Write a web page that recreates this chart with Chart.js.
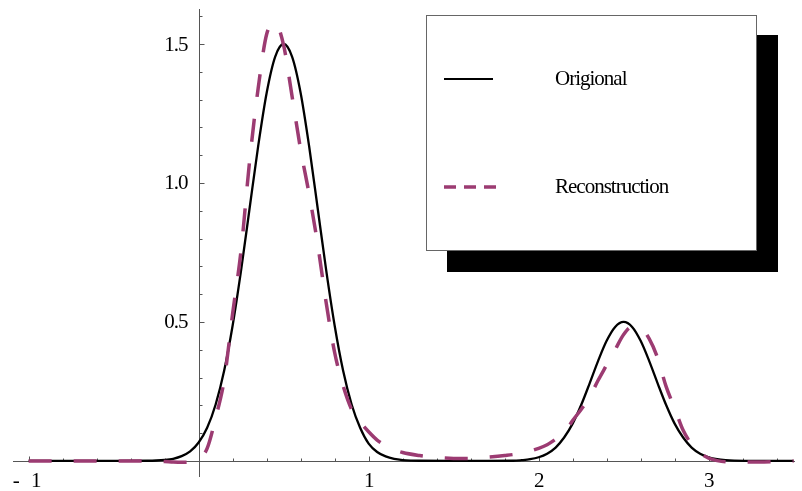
<!DOCTYPE html>
<html lang="en">
  <head>
    <meta charset="UTF-8" />
    <title>Origional vs Reconstruction</title>
    <script src="https://cdn.jsdelivr.net/npm/chart.js"></script>
    <style>
      html,
      body {
        margin: 0;
        padding: 0;
        background: #fff;
      }
      .wrap {
        width: 802px;
        height: 491px;
        position: relative;
      }
    </style>
  </head>
  <body>
    <div class="wrap"><canvas id="plot"></canvas></div>

    <script>
      // values
      var origX = [-1, -0.5, -0.3, -0.25, -0.2, -0.15, -0.1, -0.05, 0, 0.05, 0.1, 0.15, 0.2, 0.25, 0.3, 0.35, 0.4, 0.45, 0.5, 0.55, 0.6, 0.65, 0.7, 0.75, 0.8, 0.85, 0.9, 0.95, 1, 1.05, 1.1, 1.15, 1.2, 1.25, 1.3, 1.5, 1.7, 1.85, 1.9, 1.95, 2, 2.05, 2.1, 2.15, 2.2, 2.25, 2.3, 2.35, 2.4, 2.45, 2.5, 2.55, 2.6, 2.65, 2.7, 2.75, 2.8, 2.85, 2.9, 2.95, 3, 3.05, 3.1, 3.15, 3.3, 3.5];
      var origY = [0, 0, 0.0005, 0.0013, 0.0033, 0.0076, 0.017, 0.034, 0.066, 0.119, 0.203, 0.324, 0.487, 0.687, 0.91, 1.132, 1.324, 1.454, 1.5, 1.454, 1.324, 1.132, 0.91, 0.687, 0.487, 0.324, 0.203, 0.119, 0.062, 0.032, 0.016, 0.0072, 0.003, 0.0012, 0.0005, 0, 0, 0.0004, 0.0026, 0.006, 0.013, 0.026, 0.048, 0.084, 0.134, 0.201, 0.279, 0.36, 0.432, 0.482, 0.5, 0.482, 0.432, 0.36, 0.279, 0.201, 0.134, 0.084, 0.048, 0.026, 0.013, 0.006, 0.0026, 0.001, 0, 0];

      var reconX = [-1, -0.5, -0.25, -0.2, -0.15, -0.1, -0.05, 0, 0.05, 0.1, 0.15, 0.2, 0.25, 0.3, 0.35, 0.4, 0.45, 0.5, 0.55, 0.6, 0.65, 0.7, 0.75, 0.8, 0.85, 0.9, 0.95, 1, 1.05, 1.1, 1.15, 1.2, 1.3, 1.4, 1.5, 1.6, 1.7, 1.8, 1.9, 2, 2.05, 2.1, 2.15, 2.2, 2.25, 2.3, 2.35, 2.4, 2.45, 2.5, 2.55, 2.6, 2.65, 2.7, 2.75, 2.8, 2.85, 2.9, 2.95, 3, 3.05, 3.1, 3.2, 3.3, 3.4, 3.5];
      var reconY = [0, 0, -0.001, -0.002, -0.004, -0.005, -0.004, 0.006, 0.045, 0.155, 0.29, 0.53, 0.76, 1.08, 1.34, 1.535, 1.575, 1.495, 1.31, 1.12, 0.96, 0.78, 0.57, 0.39, 0.27, 0.185, 0.14, 0.105, 0.075, 0.055, 0.04, 0.03, 0.019, 0.012, 0.009, 0.009, 0.013, 0.019, 0.028, 0.045, 0.058, 0.078, 0.1, 0.145, 0.185, 0.23, 0.29, 0.345, 0.4, 0.455, 0.482, 0.478, 0.44, 0.37, 0.267, 0.19, 0.11, 0.06, 0.028, 0.01, 0.001, -0.003, -0.004, -0.004, -0.002, 0];

      var seriesNames = ["Origional", "Reconstruction"];
      var yLabels = [0.5, 1.0, 1.5];
      var xLabels = [-1, 1, 2, 3];

      var purple = "#9c3b72";
      var serif = "'Liberation Serif', 'DejaVu Serif', serif";

      function pts(xs, ys) {
        return xs.map(function (x, i) {
          return { x: x, y: ys[i] };
        });
      }

      // axes crossing at the origin, Mathematica style
      var axesPlugin = {
        id: "originAxes",
        beforeDatasetsDraw: function (chart) {
          var c = chart.ctx;
          var xs = chart.scales.x;
          var ys = chart.scales.y;
          var x0 = Math.round(xs.getPixelForValue(0)) + 0.5;
          var y0 = Math.round(ys.getPixelForValue(0)) + 0.5;
          c.save();
          c.strokeStyle = "#555";
          c.lineWidth = 1;
          c.beginPath();
          c.moveTo(xs.left, y0);
          c.lineTo(xs.right, y0);
          c.moveTo(x0, ys.top);
          c.lineTo(x0, ys.bottom);
          // x ticks every 0.2
          for (var i = -5; i <= 17; i++) {
            if (i === 0) continue;
            var v = i * 0.2;
            var px = Math.round(xs.getPixelForValue(v)) + 0.5;
            var len = i % 5 === 0 ? 5 : 3;
            c.moveTo(px, y0);
            c.lineTo(px, y0 - len);
          }
          // y ticks every 0.1
          for (var j = 1; j <= 16; j++) {
            var py = Math.round(ys.getPixelForValue(j * 0.1)) + 0.5;
            var l2 = j % 5 === 0 ? 5 : 3;
            c.moveTo(x0, py);
            c.lineTo(x0 + l2, py);
          }
          c.stroke();

          c.fillStyle = "#000";
          c.font = "21px " + serif;
          c.letterSpacing = "-1px";
          c.textAlign = "right";
          c.textBaseline = "middle";
          yLabels.forEach(function (v) {
            c.fillText(v.toFixed(1), x0 - 12, ys.getPixelForValue(v) + 1);
          });
          c.textAlign = "center";
          c.textBaseline = "alphabetic";
          xLabels.forEach(function (v) {
            var px = xs.getPixelForValue(v);
            if (v < 0) {
              c.fillText("-", px - 13, y0 + 25);
              c.fillText(String(-v), px + 7, y0 + 25);
            } else {
              c.fillText(String(v), px, y0 + 25);
            }
          });
          c.restore();
        },
        afterDraw: function (chart) {
          var c = chart.ctx;
          c.save();
          // shadow then box
          c.fillStyle = "#000";
          c.fillRect(447, 35, 331, 237);
          c.fillStyle = "#fff";
          c.fillRect(426, 15, 331, 236);
          c.strokeStyle = "#666";
          c.lineWidth = 1;
          c.strokeRect(426.5, 15.5, 330, 235);

          c.lineWidth = 2.2;
          c.strokeStyle = "#000";
          c.beginPath();
          c.moveTo(444, 79);
          c.lineTo(493, 79);
          c.stroke();

          c.lineWidth = 3.5;
          c.strokeStyle = purple;
          c.setLineDash([12, 8]);
          c.beginPath();
          c.moveTo(444, 187);
          c.lineTo(496, 187);
          c.stroke();
          c.setLineDash([]);

          c.fillStyle = "#000";
          c.font = "21px " + serif;
          c.letterSpacing = "-1px";
          c.textAlign = "left";
          c.textBaseline = "middle";
          c.fillText(seriesNames[0], 555, 79);
          c.fillText(seriesNames[1], 555, 187);
          c.restore();
        },
      };

      var ctx = document.getElementById("plot").getContext("2d");
      var plot = new Chart(ctx, {
        type: "line",
        data: {
          datasets: [
            {
              label: seriesNames[1],
              data: pts(reconX, reconY),
              borderColor: purple,
              borderWidth: 3.5,
              borderDash: [23, 22],
              pointRadius: 0,
              cubicInterpolationMode: "monotone",
              fill: false,
            },
            {
              label: seriesNames[0],
              data: pts(origX, origY),
              borderColor: "#000",
              borderWidth: 2.3,
              pointRadius: 0,
              cubicInterpolationMode: "monotone",
              fill: false,
            },
          ],
        },
        options: {
          responsive: true,
          maintainAspectRatio: false,
          animation: false,
          layout: { padding: { left: 13, right: 7, top: 9, bottom: 14 } },
          plugins: {
            legend: { display: false },
            tooltip: { enabled: false },
          },
          scales: {
            x: { type: "linear", min: -1.092, max: 3.508, display: false },
            y: { type: "linear", min: -0.058, max: 1.626, display: false },
          },
        },
        plugins: [axesPlugin],
      });
    </script>
  </body>
</html>
